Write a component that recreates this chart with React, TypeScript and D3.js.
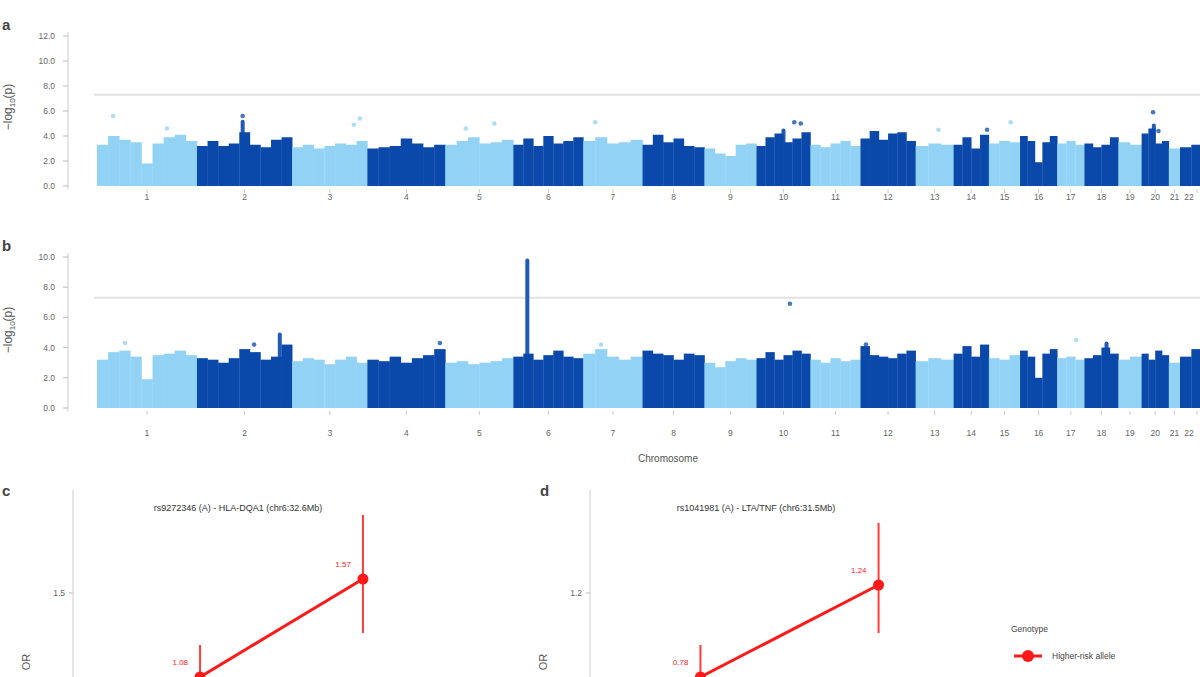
import React from 'react';
import * as d3 from 'd3';

/* ── Data ──────────────────────────────────────────────────────── */
const CHROMS = ['1', '2', '3', '4', '5', '6', '7', '8', '9', '10', '11', '12', '13', '14', '15', '16', '17', '18', '19', '20', '21', '22'];
// plotted SNP span per chromosome (Mb)
const CHROM_SPAN_MB = [250, 238, 188, 195, 170, 175, 148, 155, 130, 135, 125, 138, 95, 88, 78, 93, 68, 85, 58, 68, 28, 85];
const CHROM_COLORS = ['#92d3f5', '#0a49aa'];

// upper envelope of the dense -log10(p) cloud, equal-width bins per chromosome
const ENV_A: number[][] = [
  [3.3, 4.0, 3.7, 3.5, 1.8, 3.4, 3.9, 4.1, 3.6],
  [3.2, 3.6, 3.2, 3.4, 4.3, 3.3, 3.1, 3.7, 3.9],
  [3.1, 3.3, 3.0, 3.2, 3.4, 3.3, 3.6],
  [3.0, 3.1, 3.2, 3.8, 3.4, 3.1, 3.3],
  [3.3, 3.6, 3.9, 3.4, 3.5, 3.7],
  [3.3, 3.8, 3.2, 4.0, 3.4, 3.6, 3.9],
  [3.6, 3.9, 3.4, 3.5, 3.7],
  [3.3, 4.1, 3.5, 3.8, 3.2, 3.1],
  [3.0, 2.6, 2.4, 3.3, 3.4],
  [3.2, 3.9, 4.2, 3.5, 3.8, 4.3],
  [3.3, 3.1, 3.4, 3.6, 3.2],
  [3.8, 4.4, 3.7, 4.2, 4.3, 3.6],
  [3.2, 3.4, 3.3],
  [3.3, 3.9, 3.0, 4.1],
  [3.4, 3.6, 3.5],
  [4.0, 3.6, 1.9, 3.5, 4.0],
  [3.4, 3.6, 3.3],
  [3.4, 3.1, 3.3, 3.9],
  [3.5, 3.3],
  [4.2, 4.6, 3.4, 3.6],
  [3.0],
  [3.1, 3.3, 3.2],
];
const ENV_B: number[][] = [
  [3.2, 3.7, 3.8, 3.4, 1.9, 3.5, 3.6, 3.8, 3.5],
  [3.3, 3.2, 3.0, 3.3, 3.9, 3.7, 3.2, 3.4, 4.2],
  [3.1, 3.3, 3.2, 2.9, 3.2, 3.4, 3.0],
  [3.2, 3.1, 3.4, 3.0, 3.3, 3.5, 3.9],
  [3.0, 3.1, 2.9, 3.0, 3.1, 3.3],
  [3.4, 3.6, 3.2, 3.5, 3.8, 3.4, 3.3],
  [3.6, 3.9, 3.4, 3.2, 3.4],
  [3.8, 3.6, 3.5, 3.2, 3.6, 3.5],
  [3.0, 2.7, 3.1, 3.3, 3.2],
  [3.3, 3.7, 3.2, 3.5, 3.8, 3.6],
  [3.2, 3.0, 3.3, 3.1, 3.2],
  [4.1, 3.5, 3.4, 3.3, 3.6, 3.8],
  [3.1, 3.3, 3.2],
  [3.6, 4.1, 3.4, 4.2],
  [3.3, 3.2, 3.5],
  [3.8, 3.4, 2.0, 3.6, 3.9],
  [3.3, 3.4, 3.2],
  [3.3, 3.5, 4.0, 3.6],
  [3.2, 3.4],
  [3.6, 3.2, 3.8, 3.5],
  [3.0],
  [3.4, 3.9, 3.3],
];

// narrow association peaks: [chrom index, position fraction, -log10 p]
const PEAKS_A: [number, number, number][] = [[1, 0.48, 5.3], [9, 0.5, 4.6], [19, 0.45, 5.0]];
const PEAKS_B: [number, number, number][] = [[5, 0.2, 9.9], [1, 0.87, 5.0], [17, 0.65, 4.4]];

// isolated SNPs above the cloud: [chrom index, position fraction, -log10 p]
const DOTS_A: [number, number, number][] = [
  [0, 0.16, 5.6], [0, 0.7, 4.6], [1, 0.48, 5.6], [2, 0.82, 4.9], [2, 0.9, 5.4],
  [4, 0.3, 4.6], [4, 0.72, 5.0], [6, 0.2, 5.1], [9, 0.7, 5.1], [9, 0.82, 5.0],
  [12, 0.6, 4.5], [13, 0.95, 4.5], [14, 0.7, 5.1], [19, 0.42, 5.9], [19, 0.62, 4.4],
];
const DOTS_B: [number, number, number][] = [
  [0, 0.28, 4.3], [3, 0.93, 4.3], [6, 0.3, 4.2], [9, 0.62, 6.9], [11, 0.1, 4.2],
  [16, 0.7, 4.5], [1, 0.6, 4.2],
];

const Y_TICKS_A = [0, 2, 4, 6, 8, 10, 12];
const Y_TICKS_B = [0, 2, 4, 6, 8, 10];
const GWS_THRESHOLD = 7.3; // -log10(5e-8)

// effect plots (c, d)
const GROUPS = ['Non-carrier', 'Carrier'];
const OR_C = [1.08, 1.57];
const LO_C = [0.92, 1.3];
const HI_C = [1.24, 1.89];
const OR_D = [0.78, 1.24];
const LO_D = [0.62, 1.0];
const HI_D = [0.94, 1.55];
const TITLE_C = 'rs9272346 (A) - HLA-DQA1 (chr6:32.6Mb)';
const TITLE_D = 'rs1041981 (A) - LTA/TNF (chr6:31.5Mb)';

const FONT = '"Liberation Sans", Arial, sans-serif';
const RED = '#ff1a1a';

/* ── Manhattan panel ───────────────────────────────────────────── */
function Manhattan({ env, peaks, dots, yTicks, yMax, top, bottom, tickLabelY, letter, letterY, titleY, xTitle }: any) {
  const ends = Array.from(d3.cumsum(CHROM_SPAN_MB));
  const starts = ends.map((e, i) => e - CHROM_SPAN_MB[i]);
  const total = ends[ends.length - 1];
  const x = d3.scaleLinear().domain([0, total]).range([97, 1214]);
  const y = d3.scaleLinear().domain([0, yMax]).range([bottom, top]);
  const pos = (c: number, f: number) => x(starts[c] + f * CHROM_SPAN_MB[c]);

  return (
    <g>
      <text x={2} y={letterY} fontSize={15} fontWeight="bold" fill="#444" fontFamily={FONT}>{letter}</text>
      <text transform={`translate(12,${titleY}) rotate(-90)`} textAnchor="middle" fontSize={12} fill="#555" fontFamily={FONT}>
        −log<tspan fontSize={8} dy={3}>10</tspan><tspan dy={-3}>(p)</tspan>
      </text>

      {/* y axis */}
      <line x1={68} x2={68} y1={y(yMax) - 4} y2={bottom + 3} stroke="#ccc" strokeWidth={1} />
      {yTicks.map((t: number) => (
        <g key={t}>
          <line x1={63} x2={68} y1={y(t)} y2={y(t)} stroke="#bbb" />
          <text x={55} y={y(t) + 3} textAnchor="end" fontSize={8.5} fill="#666" fontFamily={FONT}>{d3.format('.1f')(t)}</text>
        </g>
      ))}

      {/* threshold */}
      <line x1={94} x2={1200} y1={y(GWS_THRESHOLD)} y2={y(GWS_THRESHOLD)} stroke="#e2e2e2" strokeWidth={2} />

      {/* dense clouds */}
      {env.map((bins: number[], c: number) => {
        const w = CHROM_SPAN_MB[c] / bins.length;
        return bins.map((v, i) => (
          <rect key={`${c}-${i}`}
            x={x(starts[c] + i * w)} width={x(starts[c] + (i + 1) * w) - x(starts[c] + i * w) + 0.3}
            y={y(v)} height={y(0) - y(v)} fill={CHROM_COLORS[c % 2]} />
        ));
      })}

      {peaks.map(([c, f, v]: number[], i: number) => (
        <rect key={`p${i}`} x={pos(c, f) - 2} width={4} y={y(v)} height={y(0) - y(v)} rx={2} fill={CHROM_COLORS[c % 2]} opacity={0.9} />
      ))}
      {dots.map(([c, f, v]: number[], i: number) => (
        <circle key={`d${i}`} cx={pos(c, f)} cy={y(v)} r={2.3} fill={CHROM_COLORS[c % 2]} opacity={0.75} />
      ))}

      {/* x axis ticks */}
      {CHROMS.map((ch, c) => {
        const mx = x(starts[c] + CHROM_SPAN_MB[c] / 2);
        return (
          <g key={ch}>
            <line x1={mx} x2={mx} y1={bottom + 3} y2={bottom + 7} stroke="#ccc" />
            <text x={Math.min(mx, 1189)} y={tickLabelY} textAnchor="middle" fontSize={8.5} fill="#666" fontFamily={FONT}>{ch}</text>
          </g>
        );
      })}
      {xTitle && (
        <text x={668} y={462} textAnchor="middle" fontSize={10} fill="#555" fontFamily={FONT}>Chromosome</text>
      )}
    </g>
  );
}

/* ── Effect panel ──────────────────────────────────────────────── */
function EffectPanel({ letter, letterX, axisX, rangeEnd, padding, yDomain, tick, title, titleX, values, lo, hi }: any) {
  const x = d3.scalePoint<string>().domain(GROUPS).range([axisX, rangeEnd]).padding(padding);
  const y = d3.scaleLinear().domain(yDomain).range([693, 493]);
  const line = d3.line<number>().x((_, i) => x(GROUPS[i])!).y(v => y(v));

  return (
    <g>
      <text x={letterX} y={496} fontSize={15} fontWeight="bold" fill="#444" fontFamily={FONT}>{letter}</text>
      <text transform={`translate(${axisX - 43},662) rotate(-90)`} textAnchor="middle" fontSize={11} fill="#555" fontFamily={FONT}>OR</text>
      <line x1={axisX} x2={axisX} y1={490} y2={680} stroke="#ddd" strokeWidth={1.5} />
      <line x1={axisX - 4} x2={axisX} y1={y(tick)} y2={y(tick)} stroke="#bbb" />
      <text x={axisX - 8} y={y(tick) + 3} textAnchor="end" fontSize={8.5} fill="#666" fontFamily={FONT}>{d3.format('.1f')(tick)}</text>
      <text x={titleX} y={511} textAnchor="middle" fontSize={9} fill="#333" fontFamily={FONT}>{title}</text>

      {values.map((_: number, i: number) => (
        <line key={`e${i}`} x1={x(GROUPS[i])} x2={x(GROUPS[i])} y1={y(hi[i])} y2={y(lo[i])} stroke={RED} strokeWidth={2} opacity={0.85} />
      ))}
      <path d={line(values)!} fill="none" stroke={RED} strokeWidth={3} />
      {values.map((v: number, i: number) => (
        <g key={`p${i}`}>
          <circle cx={x(GROUPS[i])} cy={y(v)} r={5.5} fill={RED} />
          <text x={x(GROUPS[i])! - 12} y={y(v) - 12} textAnchor="end" fontSize={8} fill={RED} fontFamily={FONT}>{d3.format('.2f')(v)}</text>
        </g>
      ))}
    </g>
  );
}

export default function App() {
  return (
    <>
      <style>{'body{margin:0;background:#fff}'}</style>
      <svg width={1200} height={677} style={{ display: 'block', background: '#fff' }}>
        <Manhattan env={ENV_A} peaks={PEAKS_A} dots={DOTS_A} yTicks={Y_TICKS_A} yMax={12}
          top={36} bottom={186} tickLabelY={200} letter="a" letterY={30} titleY={107} xTitle={false} />
        <Manhattan env={ENV_B} peaks={PEAKS_B} dots={DOTS_B} yTicks={Y_TICKS_B} yMax={10}
          top={257} bottom={408} tickLabelY={436} letter="b" letterY={251} titleY={330} xTitle={true} />

        <EffectPanel letter="c" letterX={2} axisX={73} rangeEnd={490} padding={0.78}
          yDomain={[1.0, 2.0]} tick={1.5} title={TITLE_C} titleX={238}
          values={OR_C} lo={LO_C} hi={HI_C} />
        <EffectPanel letter="d" letterX={540} axisX={590} rangeEnd={989} padding={0.62}
          yDomain={[0.7, 1.7]} tick={1.2} title={TITLE_D} titleX={756}
          values={OR_D} lo={LO_D} hi={HI_D} />

        {/* legend */}
        <g fontFamily={FONT}>
          <text x={1011} y={632} fontSize={8.5} fill="#444">Genotype</text>
          <line x1={1014} x2={1042} y1={656} y2={656} stroke={RED} strokeWidth={3} />
          <circle cx={1028} cy={656} r={6} fill={RED} />
          <text x={1052} y={659} fontSize={8.5} fill="#444">Higher-risk allele</text>
        </g>
      </svg>
    </>
  );
}
